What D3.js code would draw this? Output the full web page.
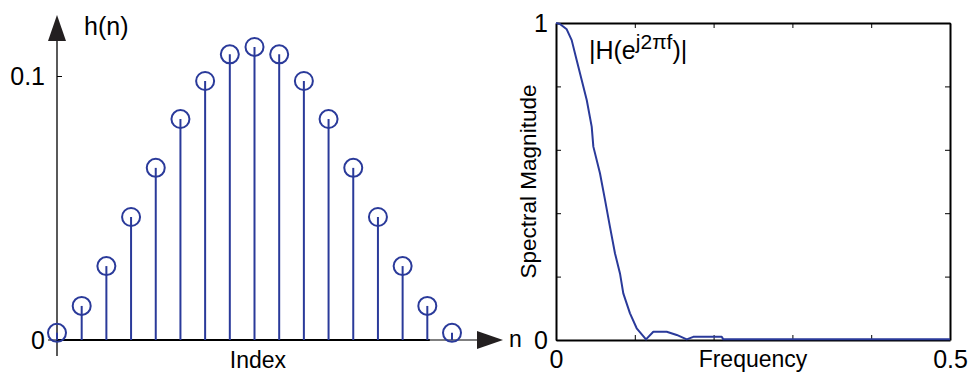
<!DOCTYPE html>
<html><head><meta charset="utf-8">
<script src="https://cdn.jsdelivr.net/npm/d3@7"></script>
<style>
html,body{margin:0;padding:0;background:#fff;}
svg{display:block;font-family:"Liberation Sans",Arial,sans-serif;}
</style></head>
<body>
<svg id="c" width="969" height="373"></svg>
<script>
// ---- data ----
const indexN = [0,1,2,3,4,5,6,7,8,9,10,11,12,13,14,15,16];
const hValues = [0.0027,0.0129,0.0280,0.0466,0.0652,0.0837,0.0981,0.1082,0.1110,0.1082,0.0981,0.0837,0.0652,0.0466,0.0280,0.0129,0.0027];
const leftYTicks = [0, 0.1];
const leftYTickLabels = ["0", "0.1"];

const freq = [0,0.005,0.0136,0.0199,0.0262,0.0326,0.039,0.0453,0.0474,0.0558,0.0622,0.0685,0.0749,0.0812,0.0854,0.0939,0.1024,0.1142,0.1235,0.1405,0.1532,0.1659,0.1742,0.2103,0.2123,0.5];
const magnitude = [1,0.997,0.980,0.946,0.883,0.820,0.757,0.673,0.610,0.526,0.442,0.357,0.273,0.210,0.147,0.084,0.037,0.002,0.026,0.026,0.016,0.002,0.010,0.010,0.002,0.002];
const rightXTicks = [0,0.1,0.2,0.3,0.4,0.5];
const rightXTickLabels = {0:"0", 0.5:"0.5"};
const rightYTicks = [0,0.2,0.4,0.6,0.8,1];
const rightYTickLabels = {0:"0", 1:"1"};

const blue = "#2a3a9a";
const svg = d3.select("#c");

// ---- left panel: stem plot ----
const xL = d3.scaleLinear().domain([0,16]).range([57,452]);
const yL = d3.scaleLinear().domain([0,0.1]).range([340,76]);
const gL = svg.append("g");

const axL = d3.axisLeft(yL).tickValues(leftYTicks).tickSize(-5).tickPadding(12)
  .tickFormat((d,i)=>leftYTickLabels[i]);
const gAxL = gL.append("g").attr("transform",`translate(${xL(0)},0)`).call(axL);
gAxL.select(".domain").remove();
gAxL.selectAll("text").attr("font-size",25).attr("fill","#000").attr("font-family","Liberation Sans, Arial, sans-serif");
gAxL.selectAll("line").attr("stroke","#000");

// vertical axis with arrow
const ax0 = xL(0);
gL.append("line").attr("x1",ax0).attr("x2",ax0).attr("y1",yL(0)+16).attr("y2",yL(0.1)-36)
  .attr("stroke","#000").attr("stroke-width",1.3);
gL.append("path").attr("d",`M${ax0},${yL(0.1)-61} L${ax0-9},${yL(0.1)-35} L${ax0+9},${yL(0.1)-35} Z`).attr("fill","#231f20");

// horizontal axis (thin) with arrow
const ay0 = yL(0);
gL.append("line").attr("x1",ax0-9).attr("x2",xL(16)+28).attr("y1",ay0).attr("y2",ay0)
  .attr("stroke","#000").attr("stroke-width",1.2);
gL.append("path").attr("d",`M${xL(16)+51},${ay0} L${xL(16)+25},${ay0-9} L${xL(16)+25},${ay0+9} Z`).attr("fill","#231f20");
gL.append("line").attr("x1",xL(0)).attr("x2",xL(15.1)).attr("y1",ay0).attr("y2",ay0)
  .attr("stroke","#000").attr("stroke-width",2.2);

// stems
gL.selectAll(".stem").data(indexN).enter().append("line")
  .attr("x1",d=>xL(d)).attr("x2",d=>xL(d))
  .attr("y1",yL(0)).attr("y2",(d,i)=>yL(hValues[i]))
  .attr("stroke",blue).attr("stroke-width",2);
gL.selectAll(".mk").data(indexN).enter().append("circle")
  .attr("cx",d=>xL(d)).attr("cy",(d,i)=>yL(hValues[i])).attr("r",9)
  .attr("fill","none").attr("stroke",blue).attr("stroke-width",2);

// labels
gL.append("text").attr("x",84).attr("y",35).attr("font-size",25).text("h(n)");
gL.append("text").attr("x",xL(16)+57).attr("y",ay0+7).attr("font-size",23).text("n");
gL.append("text").attr("x",258).attr("y",368).attr("font-size",23).attr("text-anchor","middle").text("Index");

// ---- right panel: magnitude response ----
const xR = d3.scaleLinear().domain([0,0.5]).range([556,950]);
const yR = d3.scaleLinear().domain([0,1]).range([340,23]);
const gR = svg.append("g");

function styleAxis(g){
  g.select(".domain").attr("stroke","#000").attr("stroke-width",2);
  g.selectAll(".tick line").attr("stroke","#000").attr("stroke-width",1);
  g.selectAll("text").attr("font-size",25).attr("fill","#000").attr("font-family","Liberation Sans, Arial, sans-serif");
}
const bx = gR.append("g").attr("transform",`translate(0,${yR(0)})`)
  .call(d3.axisBottom(xR).tickValues(rightXTicks).tickSize(-5).tickSizeOuter(0).tickPadding(10)
    .tickFormat(d=>rightXTickLabels[d]||""));
styleAxis(bx);
const tx = gR.append("g").attr("transform",`translate(0,${yR(1)})`)
  .call(d3.axisTop(xR).tickValues(rightXTicks).tickSize(-5).tickSizeOuter(0).tickFormat(""));
styleAxis(tx);
const ly = gR.append("g").attr("transform",`translate(${xR(0)},0)`)
  .call(d3.axisLeft(yR).tickValues(rightYTicks).tickSize(-5).tickSizeOuter(0).tickPadding(8)
    .tickFormat(d=>rightYTickLabels[d]||""));
styleAxis(ly);
const ry = gR.append("g").attr("transform",`translate(${xR(0.5)},0)`)
  .call(d3.axisRight(yR).tickValues(rightYTicks).tickSize(-5).tickSizeOuter(0).tickFormat(""));
styleAxis(ry);

const line = d3.line().x((d,i)=>xR(freq[i])).y(d=>yR(d));
gR.append("path").datum(magnitude).attr("d",line)
  .attr("fill","none").attr("stroke",blue).attr("stroke-width",2).attr("stroke-linejoin","round");

// labels
gR.append("text").attr("x",(xR(0)+xR(0.5))/2).attr("y",367).attr("font-size",23).attr("text-anchor","middle").text("Frequency");
gR.append("text").attr("transform",`translate(536,${(yR(0)+yR(1))/2}) rotate(-90)`)
  .attr("font-size",22.5).attr("text-anchor","middle").text("Spectral Magnitude");
const t = gR.append("text").attr("x",589).attr("y",59).attr("font-size",25);
t.append("tspan").text("|H(e");
t.append("tspan").attr("dy",-10).attr("font-size",21).text("j2\u03C0f");
t.append("tspan").attr("dy",10).text(")|");
</script>
</body></html>
